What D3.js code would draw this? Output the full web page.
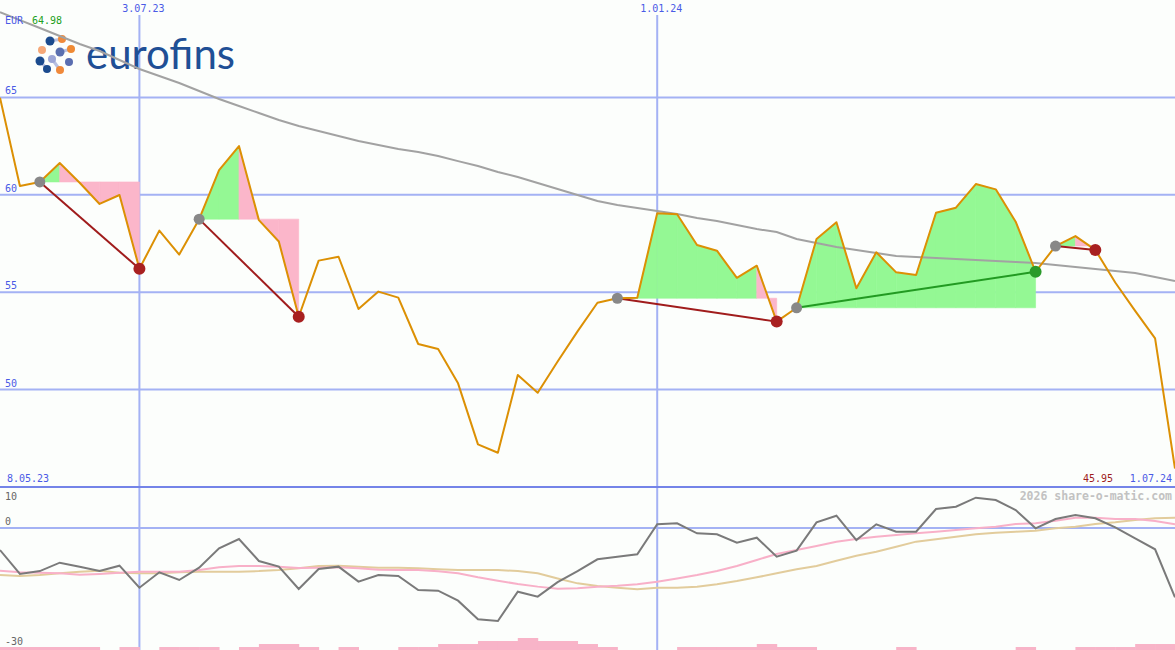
<!DOCTYPE html>
<html><head><meta charset="utf-8">
<script src="https://cdn.jsdelivr.net/npm/d3@7/dist/d3.min.js"></script>
<style>html,body{margin:0;padding:0;background:#fcfefc;overflow:hidden}svg{display:block}</style>
</head><body>
<script>
// ---------- data ----------
const price = [64.98,60.45,60.66,61.63,60.62,59.53,59.99,56.2,58.16,56.93,
  58.75,61.27,62.5,58.7,57.6,53.74,56.62,56.82,54.14,55.03,
  54.72,52.34,52.08,50.32,47.19,46.76,50.75,49.84,51.44,52.99,
  54.46,54.69,54.72,59.05,59.0,57.42,57.13,55.74,56.36,53.49,
  54.2,57.73,58.59,55.2,57.05,56.02,55.88,59.08,59.34,60.55,
  60.28,58.62,56.05,57.37,57.88,57.17,55.5,54.04,52.63,45.95];
const avgLong = [69.38,68.97,68.56,68.15,67.74,67.38,66.92,66.46,66.10,65.74,
  65.33,64.92,64.56,64.20,63.84,63.53,63.28,63.02,62.76,62.56,
  62.35,62.20,61.99,61.73,61.48,61.17,60.91,60.61,60.30,59.99,
  59.68,59.48,59.32,59.17,59.01,58.81,58.65,58.45,58.24,58.09,
  57.73,57.53,57.32,57.17,57.01,56.86,56.81,56.76,56.70,56.65,
  56.60,56.55,56.50,56.40,56.29,56.19,56.09,55.99,55.78,55.57];
const momentum = [-5.37,-11.2,-10.5,-8.46,-9.43,-10.5,-9.19,-14.56,-10.8,-12.68,
  -9.67,-4.96,-2.68,-8.05,-9.43,-14.88,-10.0,-9.43,-13.09,-11.46,
  -11.71,-15.12,-15.28,-17.72,-22.28,-22.68,-15.53,-16.75,-13.2,-10.5,
  -7.63,-7.0,-6.41,0.9,1.15,-1.3,-1.54,-3.58,-2.37,-7.0,
  -5.53,1.38,3.0,-2.93,0.9,-0.9,-0.9,4.63,5.2,7.39,
  6.83,4.39,-0.08,2.2,3.17,2.37,0.17,-2.51,-5.2,-16.9];
const momAvgFast = [-10.4,-10.8,-10.9,-11.05,-11.4,-11.2,-10.9,-10.65,-10.65,-10.65,
  -10.24,-9.6,-9.27,-9.27,-9.43,-9.76,-9.7,-9.6,-9.84,-10.16,
  -10.24,-10.24,-10.57,-11.05,-12.03,-12.85,-13.66,-14.3,-14.8,-14.7,
  -14.3,-14.07,-13.7,-13.1,-12.3,-11.46,-10.5,-9.27,-7.8,-6.34,
  -5.37,-4.39,-3.33,-2.68,-2.11,-1.7,-1.3,-0.9,-0.49,-0.08,
  0.33,0.98,1.14,1.79,2.52,2.52,2.2,2.2,1.7,0.9];
const momAvgSlow = [-11.46,-11.7,-11.46,-11.05,-10.65,-10.4,-10.9,-11.05,-11.05,-10.8,
  -10.65,-10.65,-10.65,-10.5,-10.24,-9.84,-9.27,-9.2,-9.43,-9.67,
  -9.67,-9.84,-10.08,-10.24,-10.24,-10.24,-10.5,-11.05,-12.3,-13.5,
  -14.15,-14.56,-14.96,-14.56,-14.56,-14.3,-13.7,-12.93,-12.03,-11.05,
  -10.08,-9.27,-7.97,-6.75,-5.78,-4.56,-3.33,-2.76,-2.11,-1.54,
  -1.14,-0.9,-0.65,-0.08,0.33,0.98,1.38,1.95,2.37,2.52];
const barLevels = [1,1,1,1,1,0,1,0,1,1, 1,0,1,2,2,1,0,1,0,0,
  1,1,2,2,3,3,4,3,3,2, 1,0,0,0,1,1,1,1,2,1, 1,0,0,0,0,1,0,0,0,0, 0,1,0,0,1,1,1,2,2,0];
const signalStart = [2,10,31,40,53];
const signalEnd   = [7,15,39,52,55];
const signalType  = ["sell","sell","sell","buy","sell"];
const xTickIdx = [7,33];
const xTickLabels = ["3.07.23","1.01.24"];
const yTicks = [50,55,60,65];
const lowTicks = [10,0,-30];
const firstDateLabel = "8.05.23";
const lastDateLabel = "1.07.24";
const currency = "EUR";
const maxLabel = "64.98";
const lastLabel = "45.95";

// ---------- layout ----------
const W = 1175, H = 650;
const svg = d3.select("body").append("svg").attr("width", W).attr("height", H);
svg.append("rect").attr("width", W).attr("height", H).attr("fill", "#fcfefc");

const x = d3.scaleLinear().domain([0, price.length - 1]).range([0, W]);
const y = d3.scaleLinear().domain([45, 70]).range([487, 0]);
const yl = d3.scaleLinear().domain([-30, 10]).range([651, 487]);
const yb = d3.scaleLinear().domain([0, 4]).range([0, 12]);

const mono = "'DejaVu Sans Mono', 'Liberation Mono', monospace";
const gridC = "#a4b2f4";

// grid
svg.selectAll(".hg").data(yTicks).join("line")
  .attr("x1", 0).attr("x2", W).attr("y1", d => y(d)).attr("y2", d => y(d))
  .attr("stroke", gridC).attr("stroke-width", 2);
svg.append("line").attr("x1", 0).attr("x2", W).attr("y1", yl(0)).attr("y2", yl(0))
  .attr("stroke", gridC).attr("stroke-width", 2);
svg.selectAll(".vg").data(xTickIdx).join("line")
  .attr("x1", d => x(d)).attr("x2", d => x(d)).attr("y1", 15).attr("y2", H)
  .attr("stroke", gridC).attr("stroke-width", 2);
svg.append("line").attr("x1", 0).attr("x2", W).attr("y1", 487).attr("y2", 487)
  .attr("stroke", "#7484e8").attr("stroke-width", 2);

// logo
const logo = svg.append("g");
const links = [[50,41,62,39],[60,52,71,49],[40,61,47,69],[52,59,60,70]];
links.forEach(l => logo.append("line").attr("x1", l[0]).attr("y1", l[1]).attr("x2", l[2]).attr("y2", l[3])
  .attr("stroke", "#b8c0e0").attr("stroke-width", 3));
const dots = [[50,41,4.5,"#1b4b8e"],[62,39,4,"#f0893a"],[42,50,4,"#f5a878"],[60,52,4.5,"#5a70b0"],
  [71,49,4,"#ef8a34"],[52,59,4,"#9ca6d6"],[69,62,4,"#5a6eb0"],[40,61,4.5,"#1b4b8e"],
  [47,69,4,"#1b4b8e"],[60,70,4,"#f0893a"]];
dots.forEach(d => logo.append("circle").attr("cx", d[0]).attr("cy", d[1]).attr("r", d[2]).attr("fill", d[3]));
logo.append("text").attr("x", 86).attr("y", 69).attr("font-family", "Lato, 'Open Sans', sans-serif")
  .attr("font-size", 42).attr("fill", "#1f4f95").attr("textLength", 149).attr("lengthAdjust", "spacingAndGlyphs")
  .text("eurofins");

// bars in lower panel
const step = x(1) - x(0);
svg.selectAll(".bar").data(barLevels).join("rect")
  .attr("x", (d, i) => x(i)).attr("width", step + 0.5)
  .attr("y", d => H - yb(d)).attr("height", d => yb(d))
  .attr("fill", "#f8b4c8");

// signal fills
const green = "#94f894", pink = "#fbb6ca";
signalStart.forEach((s, k) => {
  const e = signalEnd[k], lvl = price[s];
  for (let i = s; i < e; i++) {
    const pts = [[x(i), y(lvl)], [x(i), y(price[i])], [x(i + 1), y(price[i + 1])], [x(i + 1), y(lvl)]];
    svg.append("path").attr("d", "M" + pts.join("L") + "Z")
      .attr("fill", price[i + 1] >= lvl ? green : pink)
      .attr("stroke", price[i + 1] >= lvl ? green : pink).attr("stroke-width", 0.6);
  }
});

// long average
const line = (ys) => d3.line().x((d, i) => x(i)).y(d => ys(d));
svg.append("path").datum(avgLong).attr("d", line(y)).attr("fill", "none")
  .attr("stroke", "#a2a2a2").attr("stroke-width", 2);

// lower panel lines
svg.append("path").datum(momAvgSlow).attr("d", line(yl)).attr("fill", "none")
  .attr("stroke", "#e2cc9c").attr("stroke-width", 2);
svg.append("path").datum(momAvgFast).attr("d", line(yl)).attr("fill", "none")
  .attr("stroke", "#f8b0c8").attr("stroke-width", 2);
svg.append("path").datum(momentum).attr("d", line(yl)).attr("fill", "none")
  .attr("stroke", "#7a7a7a").attr("stroke-width", 2);

// signal lines
signalStart.forEach((s, k) => {
  const e = signalEnd[k];
  svg.append("line").attr("x1", x(s)).attr("y1", y(price[s])).attr("x2", x(e)).attr("y2", y(price[e]))
    .attr("stroke", signalType[k] === "buy" ? "#229a22" : "#a01c1c").attr("stroke-width", 2);
});

// price line
svg.append("path").datum(price).attr("d", line(y)).attr("fill", "none")
  .attr("stroke", "#dc9004").attr("stroke-width", 2).attr("stroke-linejoin", "round");

// dots
signalStart.forEach((s, k) => {
  const e = signalEnd[k];
  svg.append("circle").attr("cx", x(s)).attr("cy", y(price[s])).attr("r", 5.5).attr("fill", "#888888");
  svg.append("circle").attr("cx", x(e)).attr("cy", y(price[e])).attr("r", 6)
    .attr("fill", signalType[k] === "buy" ? "#2a9a2a" : "#a82020");
});

// texts
const txt = (t, xx, yy, c, anchor, size, weight) => svg.append("text").attr("x", xx).attr("y", yy)
  .attr("fill", c).attr("font-family", mono).attr("font-size", size || 10)
  .attr("font-weight", weight || "normal").attr("text-anchor", anchor || "start").text(t);
const blue = "#4a5ae6";
xTickIdx.forEach((d, i) => txt(xTickLabels[i], x(d) + 4, 12, blue, "middle"));
yTicks.forEach(d => txt(String(d), 5, y(d) - 3, blue));
txt(currency, 5, 24, blue);
txt(maxLabel, 32, 24, "#22a022");
txt(firstDateLabel, 7, 482, blue);
txt(lastLabel, 1113, 482, "#a01c1c", "end");
txt(lastDateLabel, 1172, 482, blue, "end");
txt("2026 share-o-matic.com", 1172, 500, "#c2c2c2", "end", 11.5, "bold");
const lowPos = {"10": 500, "0": 525, "-30": 645};
lowTicks.forEach(d => txt(String(d), 5, lowPos[String(d)], "#666666"));
</script>
</body></html>
